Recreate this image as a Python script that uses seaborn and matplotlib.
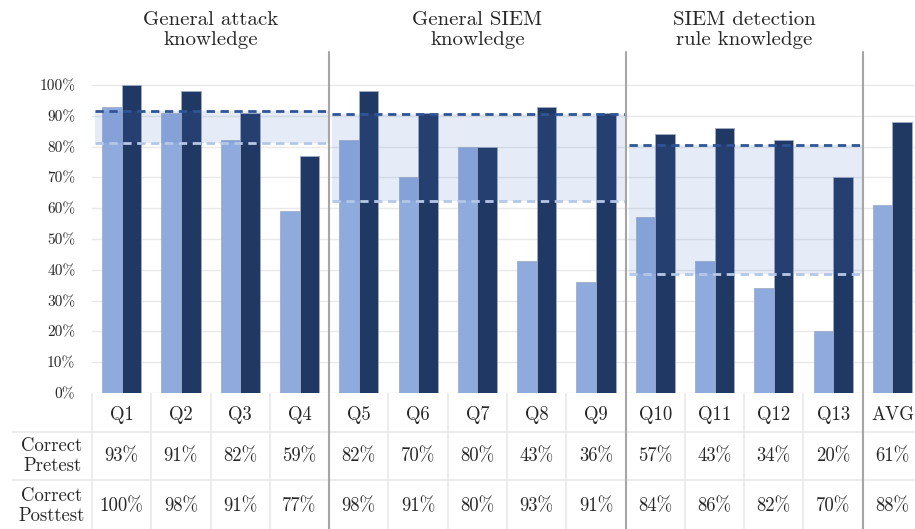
import numpy as np
import pandas as pd
import matplotlib
matplotlib.use("Agg")
import matplotlib.pyplot as plt
import seaborn as sns

# data
questions = ["Q1", "Q2", "Q3", "Q4", "Q5", "Q6", "Q7", "Q8", "Q9",
             "Q10", "Q11", "Q12", "Q13", "AVG"]
pretest = [93, 91, 82, 59, 82, 70, 80, 43, 36, 57, 43, 34, 20, 61]
posttest = [100, 98, 91, 77, 98, 91, 80, 93, 91, 84, 86, 82, 70, 88]
group_titles = ["General attack\nknowledge", "General SIEM\nknowledge",
                "SIEM detection\nrule knowledge"]
group_ranges = [(0, 4), (4, 9), (9, 13)]
row_labels = ["Correct\nPretest", "Correct\nPosttest"]

light = "#8faadc"
dark = "#203864"
grid_c = "#e9e9e9"
sep_c = "#a6a6a6"

sns.set_style("white")
plt.rcParams["font.family"] = ["cmr10", "DejaVu Serif"]
plt.rcParams["axes.formatter.use_mathtext"] = True

df = pd.DataFrame({
    "question": questions * 2,
    "score": pretest + posttest,
    "test": ["Pretest"] * len(questions) + ["Posttest"] * len(questions),
})

W, H = 915, 529
fig = plt.figure(figsize=(W / 100, H / 100), dpi=100)

# bar axes: 0% at y=393px, 100% at y=85px, top at y=50px
col_w = 59.29
ax = fig.add_axes([92 / W, (H - 393) / H, 14 * col_w / W, 343 / H])
sns.barplot(data=df, x="question", y="score", hue="test",
            palette=[light, dark], saturation=1, width=0.66, gap=0,
            legend=False, ax=ax, zorder=2, edgecolor="#a3aec6", linewidth=0.6)
ax.set_xlim(-0.5, 13.5)
ax.set_ylim(0, 100 * 343 / 308)
ax.set_yticks(range(0, 101, 10))
ax.set_yticklabels([f"{v}%" for v in range(0, 101, 10)], fontsize=11)
ax.tick_params(axis="y", length=0, pad=12)
ax.set_xticks([])
ax.set_xlabel("")
ax.set_ylabel("")
for s in ax.spines.values():
    s.set_visible(False)
for v in range(0, 101, 10):
    ax.axhline(v, color=grid_c, lw=1, zorder=0)

# group mean bands
for (a, b), title in zip(group_ranges, group_titles):
    pre_m = np.mean(pretest[a:b])
    post_m = np.mean(posttest[a:b])
    x0, x1 = a - 0.45, b - 0.5
    ax.fill_between([x0, x1], pre_m, post_m, color="#4472c4", alpha=0.13,
                    lw=0, zorder=3)
    ax.plot([x0, x1], [post_m, post_m], color="#2f5597", lw=2,
            ls=(0, (3, 2)), zorder=4)
    ax.plot([x0, x1], [pre_m, pre_m], color="#b4c7e7", lw=2,
            ls=(0, (3, 2)), zorder=4)
    ax.text((a - 0.5 + b - 0.5) / 2, 1.058, title,
            transform=ax.get_xaxis_transform(), ha="center", va="center",
            fontsize=15)

for x in [3.5, 8.5, 12.5]:
    ax.axvline(x, 0, 0.995, color=sep_c, lw=1.5, zorder=5, clip_on=False)

# table below
tab = fig.add_axes([12 / W, 0, (92 + 14 * col_w - 12) / W, 136 / H])
tab.set_xlim(-0.5 - 80 / col_w, 13.5)
tab.set_ylim(136, 0)
tab.axis("off")
rows_y = [0, 39, 87, 136]
for y in rows_y[1:3]:
    tab.plot([-0.5 - 80 / col_w, 13.5], [y, y], color=grid_c, lw=1.2)
for i in range(15):
    x = i - 0.5
    if x in (3.5, 8.5, 12.5):
        tab.plot([x, x], [0, 136], color=sep_c, lw=1.5, zorder=5)
    else:
        tab.plot([x, x], [0, 136], color=grid_c, lw=1.2)

cell_y = [22, 63, 113]
for i, q in enumerate(questions):
    tab.text(i, cell_y[0], q, ha="center", va="center", fontsize=13.5)
    tab.text(i, cell_y[1], f"{pretest[i]}%", ha="center", va="center", fontsize=13.5)
    tab.text(i, cell_y[2], f"{posttest[i]}%", ha="center", va="center", fontsize=13.5)
lab_x = -0.5 - 40 / col_w
tab.text(lab_x, cell_y[1], row_labels[0], ha="center", va="center", fontsize=13.5)
tab.text(lab_x, cell_y[2], row_labels[1], ha="center", va="center", fontsize=13.5)

fig.savefig("out.png", dpi=100)
